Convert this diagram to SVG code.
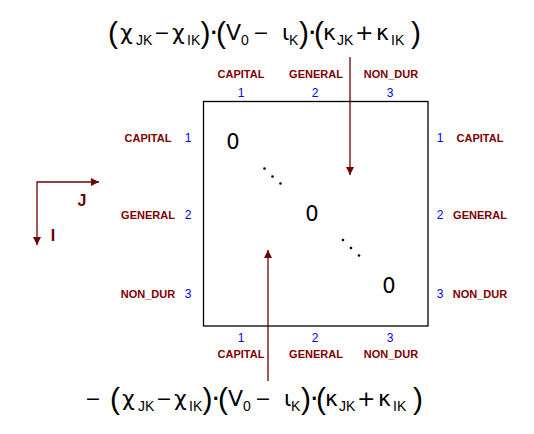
<svg xmlns="http://www.w3.org/2000/svg" width="534" height="434" viewBox="0 0 534 434">
<defs>
<marker id="ah2" viewBox="0 0 10 10" refX="10" refY="5" markerWidth="15" markerHeight="8" markerUnits="userSpaceOnUse" orient="auto">
<path d="M0,0 L10,5 L0,10 Z" fill="#6e0000"/>
</marker>
</defs>
<style>
.lab{font-family:"Liberation Sans",Arial,sans-serif;font-weight:bold;font-size:11px;fill:#800000;text-anchor:middle}
.num{font-family:"Liberation Sans",Arial,sans-serif;font-size:12px;fill:#0000ff;text-anchor:middle}
.zero{font-family:"DejaVu Sans","Liberation Sans",sans-serif;font-size:21px;fill:#000;text-anchor:middle}
.f{font-family:"DejaVu Sans","Liberation Sans",sans-serif;font-size:22px;fill:#000}
.s{font-size:14px;font-family:"Liberation Sans",Arial,sans-serif}
.m{font-size:19px}
.d{font-size:17px;font-weight:bold}
.p{font-size:30px;font-family:"Liberation Sans",sans-serif}
.ax{font-family:"Liberation Sans",Arial,sans-serif;font-weight:bold;font-size:16px;fill:#6e0000;text-anchor:middle}
.conn{stroke:#6e0000;stroke-width:1.3;fill:none}
.dot{fill:#000}
</style>
<g id="matrix">
<rect x="203.5" y="101.5" width="224.5" height="224.5" fill="#fff" stroke="#000" stroke-width="1.3"/>
<text class="zero" x="233" y="149">0</text>
<text class="zero" x="312" y="221">0</text>
<text class="zero" x="389" y="293">0</text>
<circle class="dot" cx="264.5" cy="168.5" r="1.3"/>
<circle class="dot" cx="272.5" cy="176.5" r="1.3"/>
<circle class="dot" cx="280.5" cy="183.5" r="1.3"/>
<circle class="dot" cx="343" cy="240" r="1.3"/>
<circle class="dot" cx="351" cy="248" r="1.3"/>
<circle class="dot" cx="359" cy="255.5" r="1.3"/>
</g>
<g id="col-top">
<text class="lab" x="241" y="78">CAPITAL</text>
<text class="lab" x="316" y="78">GENERAL</text>
<text class="lab" x="391" y="78">NON_DUR</text>
<text class="num" x="241" y="97">1</text>
<text class="num" x="315" y="97">2</text>
<text class="num" x="390" y="97">3</text>
</g>
<g id="col-bottom">
<text class="num" x="241" y="342">1</text>
<text class="num" x="315" y="342">2</text>
<text class="num" x="390" y="342">3</text>
<text class="lab" x="241" y="358">CAPITAL</text>
<text class="lab" x="316" y="358">GENERAL</text>
<text class="lab" x="391" y="358">NON_DUR</text>
</g>
<g id="row-left">
<text class="lab" x="148" y="142">CAPITAL</text>
<text class="lab" x="148" y="219">GENERAL</text>
<text class="lab" x="148" y="298">NON_DUR</text>
<text class="num" x="188" y="142">1</text>
<text class="num" x="188" y="219">2</text>
<text class="num" x="188" y="298">3</text>
</g>
<g id="row-right">
<text class="num" x="440" y="142">1</text>
<text class="num" x="440" y="219">2</text>
<text class="num" x="440" y="298">3</text>
<text class="lab" x="480" y="142">CAPITAL</text>
<text class="lab" x="480" y="219">GENERAL</text>
<text class="lab" x="480" y="298">NON_DUR</text>
</g>
<g id="axes">
<text class="ax" x="82" y="206">J</text>
<text class="ax" x="53" y="241">I</text>
</g>
<g id="formula-top">
<text class="f" y="40"><tspan class="p" x="108" y="43">(</tspan><tspan x="120" y="40">χ</tspan><tspan class="s" x="136" y="45">JK</tspan><tspan class="m" x="154" y="39">−</tspan><tspan x="172" y="40">χ</tspan><tspan class="s" x="187" y="45">IK</tspan><tspan class="p" x="200.5" y="43">)</tspan><tspan class="d" x="210.5" y="39">·</tspan><tspan class="p" x="216" y="43">(</tspan><tspan x="226" y="40">V</tspan><tspan class="s" x="241" y="45">0</tspan><tspan class="m" x="253" y="39">−</tspan><tspan x="282" y="40">ι</tspan><tspan class="s" x="289" y="45">K</tspan><tspan class="p" x="299" y="43">)</tspan><tspan class="d" x="309" y="39">·</tspan><tspan class="p" x="314" y="43">(</tspan><tspan x="323" y="40">κ</tspan><tspan class="s" x="337" y="45">JK</tspan><tspan x="355" y="40">+</tspan><tspan x="376" y="40">κ</tspan><tspan class="s" x="391" y="45">IK</tspan><tspan class="p" x="411" y="43">)</tspan></text>
</g>
<g id="formula-bottom">
<text class="f" y="406"><tspan class="m" x="85" y="405">−</tspan><tspan class="p" x="110" y="409">(</tspan><tspan x="122" y="406">χ</tspan><tspan class="s" x="138" y="411">JK</tspan><tspan class="m" x="156" y="405">−</tspan><tspan x="174" y="406">χ</tspan><tspan class="s" x="189" y="411">IK</tspan><tspan class="p" x="202.5" y="409">)</tspan><tspan class="d" x="212.5" y="405">·</tspan><tspan class="p" x="218" y="409">(</tspan><tspan x="228" y="406">V</tspan><tspan class="s" x="243" y="411">0</tspan><tspan class="m" x="255" y="405">−</tspan><tspan x="284" y="406">ι</tspan><tspan class="s" x="291" y="411">K</tspan><tspan class="p" x="301" y="409">)</tspan><tspan class="d" x="311" y="405">·</tspan><tspan class="p" x="316" y="409">(</tspan><tspan x="325" y="406">κ</tspan><tspan class="s" x="339" y="411">JK</tspan><tspan x="357" y="406">+</tspan><tspan x="378" y="406">κ</tspan><tspan class="s" x="393" y="411">IK</tspan><tspan class="p" x="413" y="409">)</tspan></text>
</g>
<g id="connectors">
<line class="conn" x1="350" y1="57" x2="350" y2="175" marker-end="url(#ah2)"/>
<line class="conn" x1="268" y1="381" x2="268" y2="250" marker-end="url(#ah2)"/>
<line class="conn" x1="37" y1="182" x2="99" y2="182" marker-end="url(#ah2)"/>
<line class="conn" x1="37" y1="181.5" x2="37" y2="245" marker-end="url(#ah2)"/>
</g>
</svg>
